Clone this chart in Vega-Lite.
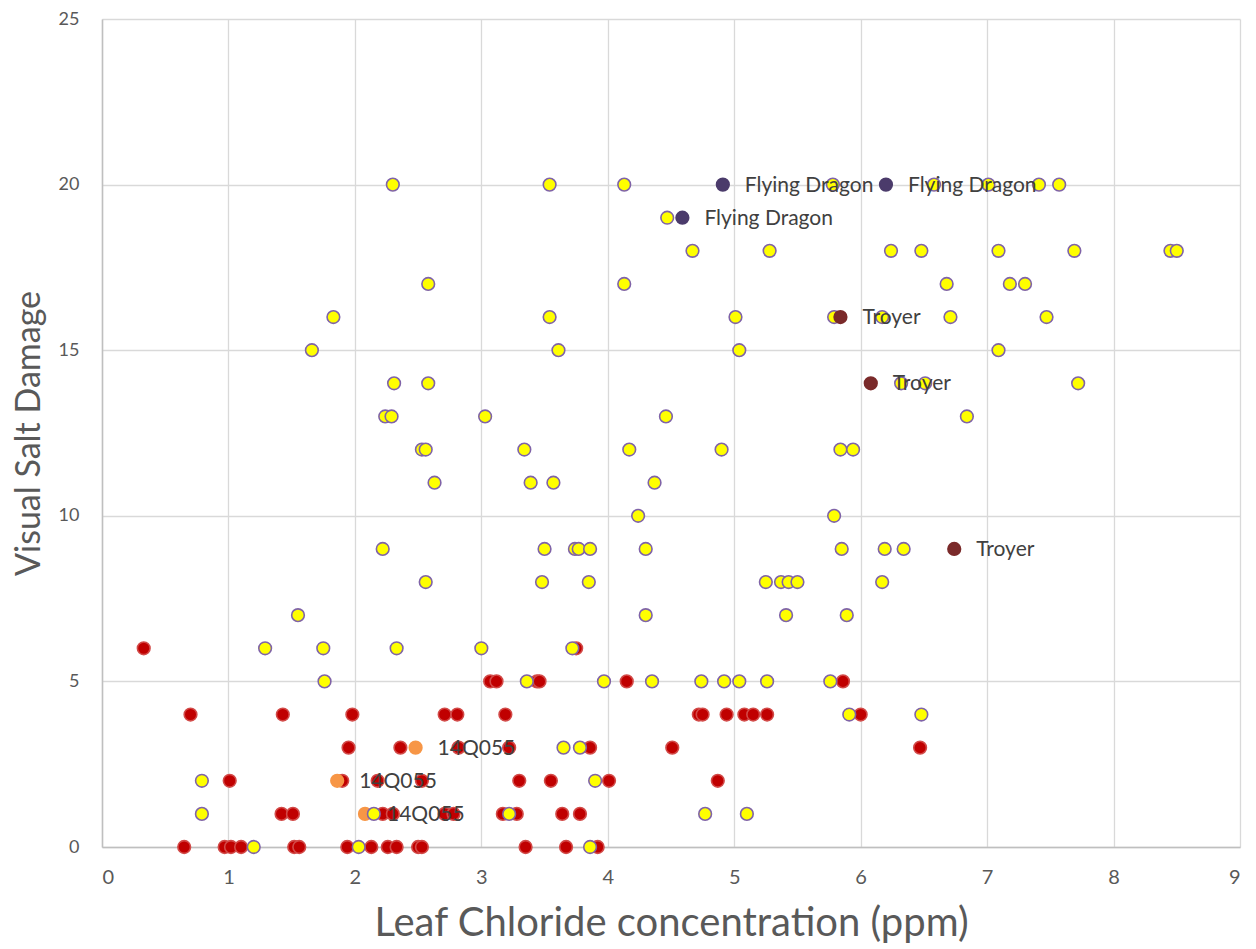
{
  "$schema": "https://vega.github.io/schema/vega-lite/v6.json",
  "width": 1138,
  "height": 828,
  "autosize": {"type": "none"},
  "padding": {"left": 102, "top": 19, "right": 16, "bottom": 102},
  "background": "white",
  "config": {
    "view": {"stroke": null},
    "font": "Lato",
    "axis": {
      "gridColor": "#D9D9D9",
      "gridWidth": 1.3,
      "domainColor": "#BFBFBF",
      "domainWidth": 1.5,
      "ticks": false,
      "labelColor": "#595959",
      "labelFont": "Lato",
      "labelFontSize": 18,
      "titleColor": "#595959",
      "titleFont": "Lato",
      "titleFontWeight": "normal",
      "titleFontSize": 34
    }
  },
  "data": {
    "values": [
      {"x": 0.33, "y": 6, "group": "B"}, {"x": 3.75, "y": 6, "group": "B"},
      {"x": 3.07, "y": 5, "group": "B"}, {"x": 3.12, "y": 5, "group": "B"}, {"x": 3.44, "y": 5, "group": "B"}, {"x": 3.46, "y": 5, "group": "B"}, {"x": 4.15, "y": 5, "group": "B"}, {"x": 5.86, "y": 5, "group": "B"},
      {"x": 0.70, "y": 4, "group": "B"}, {"x": 1.43, "y": 4, "group": "B"}, {"x": 1.98, "y": 4, "group": "B"}, {"x": 2.71, "y": 4, "group": "B"}, {"x": 2.81, "y": 4, "group": "B"}, {"x": 3.19, "y": 4, "group": "B"}, {"x": 4.72, "y": 4, "group": "B"}, {"x": 4.75, "y": 4, "group": "B"}, {"x": 4.94, "y": 4, "group": "B"}, {"x": 5.08, "y": 4, "group": "B"}, {"x": 5.15, "y": 4, "group": "B"}, {"x": 5.26, "y": 4, "group": "B"}, {"x": 6.00, "y": 4, "group": "B"},
      {"x": 1.95, "y": 3, "group": "B"}, {"x": 2.36, "y": 3, "group": "B"}, {"x": 2.82, "y": 3, "group": "B"}, {"x": 3.22, "y": 3, "group": "B"}, {"x": 3.86, "y": 3, "group": "B"}, {"x": 4.51, "y": 3, "group": "B"}, {"x": 6.47, "y": 3, "group": "B"},
      {"x": 1.01, "y": 2, "group": "B"}, {"x": 1.90, "y": 2, "group": "B"}, {"x": 2.18, "y": 2, "group": "B"}, {"x": 2.53, "y": 2, "group": "B"}, {"x": 3.30, "y": 2, "group": "B"}, {"x": 3.55, "y": 2, "group": "B"}, {"x": 4.01, "y": 2, "group": "B"}, {"x": 4.87, "y": 2, "group": "B"},
      {"x": 1.42, "y": 1, "group": "B"}, {"x": 1.51, "y": 1, "group": "B"}, {"x": 2.22, "y": 1, "group": "B"}, {"x": 2.30, "y": 1, "group": "B"}, {"x": 2.71, "y": 1, "group": "B"}, {"x": 2.78, "y": 1, "group": "B"}, {"x": 3.17, "y": 1, "group": "B"}, {"x": 3.28, "y": 1, "group": "B"}, {"x": 3.64, "y": 1, "group": "B"}, {"x": 3.78, "y": 1, "group": "B"},
      {"x": 0.65, "y": 0, "group": "B"}, {"x": 0.97, "y": 0, "group": "B"}, {"x": 1.02, "y": 0, "group": "B"}, {"x": 1.10, "y": 0, "group": "B"}, {"x": 1.52, "y": 0, "group": "B"}, {"x": 1.56, "y": 0, "group": "B"}, {"x": 1.94, "y": 0, "group": "B"}, {"x": 2.13, "y": 0, "group": "B"}, {"x": 2.26, "y": 0, "group": "B"}, {"x": 2.33, "y": 0, "group": "B"}, {"x": 2.50, "y": 0, "group": "B"}, {"x": 2.53, "y": 0, "group": "B"}, {"x": 3.35, "y": 0, "group": "B"}, {"x": 3.67, "y": 0, "group": "B"}, {"x": 3.92, "y": 0, "group": "B"},
      {"x": 2.48, "y": 3, "group": "14Q055", "label": "14Q055"}, {"x": 1.86, "y": 2, "group": "14Q055", "label": "14Q055"}, {"x": 2.08, "y": 1, "group": "14Q055", "label": "14Q055"},
      {"x": 2.30, "y": 20, "group": "A"}, {"x": 3.54, "y": 20, "group": "A"}, {"x": 4.13, "y": 20, "group": "A"}, {"x": 5.78, "y": 20, "group": "A"}, {"x": 6.58, "y": 20, "group": "A"}, {"x": 7.01, "y": 20, "group": "A"}, {"x": 7.41, "y": 20, "group": "A"}, {"x": 7.57, "y": 20, "group": "A"},
      {"x": 4.47, "y": 19, "group": "A"},
      {"x": 4.67, "y": 18, "group": "A"}, {"x": 5.28, "y": 18, "group": "A"}, {"x": 6.24, "y": 18, "group": "A"}, {"x": 6.48, "y": 18, "group": "A"}, {"x": 7.09, "y": 18, "group": "A"}, {"x": 7.69, "y": 18, "group": "A"}, {"x": 8.45, "y": 18, "group": "A"}, {"x": 8.50, "y": 18, "group": "A"},
      {"x": 2.58, "y": 17, "group": "A"}, {"x": 4.13, "y": 17, "group": "A"}, {"x": 6.68, "y": 17, "group": "A"}, {"x": 7.18, "y": 17, "group": "A"}, {"x": 7.30, "y": 17, "group": "A"},
      {"x": 1.83, "y": 16, "group": "A"}, {"x": 3.54, "y": 16, "group": "A"}, {"x": 5.01, "y": 16, "group": "A"}, {"x": 5.79, "y": 16, "group": "A"}, {"x": 6.17, "y": 16, "group": "A"}, {"x": 6.71, "y": 16, "group": "A"}, {"x": 7.47, "y": 16, "group": "A"},
      {"x": 1.66, "y": 15, "group": "A"}, {"x": 3.61, "y": 15, "group": "A"}, {"x": 5.04, "y": 15, "group": "A"}, {"x": 7.09, "y": 15, "group": "A"},
      {"x": 2.31, "y": 14, "group": "A"}, {"x": 2.58, "y": 14, "group": "A"}, {"x": 6.32, "y": 14, "group": "A"}, {"x": 6.51, "y": 14, "group": "A"}, {"x": 7.72, "y": 14, "group": "A"},
      {"x": 2.24, "y": 13, "group": "A"}, {"x": 2.29, "y": 13, "group": "A"}, {"x": 3.03, "y": 13, "group": "A"}, {"x": 4.46, "y": 13, "group": "A"}, {"x": 6.84, "y": 13, "group": "A"},
      {"x": 2.53, "y": 12, "group": "A"}, {"x": 2.56, "y": 12, "group": "A"}, {"x": 3.34, "y": 12, "group": "A"}, {"x": 4.17, "y": 12, "group": "A"}, {"x": 4.90, "y": 12, "group": "A"}, {"x": 5.84, "y": 12, "group": "A"}, {"x": 5.94, "y": 12, "group": "A"},
      {"x": 2.63, "y": 11, "group": "A"}, {"x": 3.39, "y": 11, "group": "A"}, {"x": 3.57, "y": 11, "group": "A"}, {"x": 4.37, "y": 11, "group": "A"},
      {"x": 4.24, "y": 10, "group": "A"}, {"x": 5.79, "y": 10, "group": "A"},
      {"x": 2.22, "y": 9, "group": "A"}, {"x": 3.50, "y": 9, "group": "A"}, {"x": 3.74, "y": 9, "group": "A"}, {"x": 3.77, "y": 9, "group": "A"}, {"x": 3.86, "y": 9, "group": "A"}, {"x": 4.30, "y": 9, "group": "A"}, {"x": 5.85, "y": 9, "group": "A"}, {"x": 6.19, "y": 9, "group": "A"}, {"x": 6.34, "y": 9, "group": "A"},
      {"x": 2.56, "y": 8, "group": "A"}, {"x": 3.48, "y": 8, "group": "A"}, {"x": 3.85, "y": 8, "group": "A"}, {"x": 5.25, "y": 8, "group": "A"}, {"x": 5.37, "y": 8, "group": "A"}, {"x": 5.43, "y": 8, "group": "A"}, {"x": 5.50, "y": 8, "group": "A"}, {"x": 6.17, "y": 8, "group": "A"},
      {"x": 1.55, "y": 7, "group": "A"}, {"x": 4.30, "y": 7, "group": "A"}, {"x": 5.41, "y": 7, "group": "A"}, {"x": 5.89, "y": 7, "group": "A"},
      {"x": 1.29, "y": 6, "group": "A"}, {"x": 1.75, "y": 6, "group": "A"}, {"x": 2.33, "y": 6, "group": "A"}, {"x": 3.00, "y": 6, "group": "A"}, {"x": 3.72, "y": 6, "group": "A"},
      {"x": 1.76, "y": 5, "group": "A"}, {"x": 3.36, "y": 5, "group": "A"}, {"x": 3.97, "y": 5, "group": "A"}, {"x": 4.35, "y": 5, "group": "A"}, {"x": 4.74, "y": 5, "group": "A"}, {"x": 4.92, "y": 5, "group": "A"}, {"x": 5.04, "y": 5, "group": "A"}, {"x": 5.26, "y": 5, "group": "A"}, {"x": 5.76, "y": 5, "group": "A"},
      {"x": 5.91, "y": 4, "group": "A"}, {"x": 6.48, "y": 4, "group": "A"},
      {"x": 3.65, "y": 3, "group": "A"}, {"x": 3.78, "y": 3, "group": "A"},
      {"x": 0.79, "y": 2, "group": "A"}, {"x": 3.90, "y": 2, "group": "A"},
      {"x": 0.79, "y": 1, "group": "A"}, {"x": 2.15, "y": 1, "group": "A"}, {"x": 3.22, "y": 1, "group": "A"}, {"x": 4.77, "y": 1, "group": "A"}, {"x": 5.10, "y": 1, "group": "A"},
      {"x": 1.20, "y": 0, "group": "A"}, {"x": 2.03, "y": 0, "group": "A"}, {"x": 3.86, "y": 0, "group": "A"},
      {"x": 4.91, "y": 20, "group": "Flying Dragon", "label": "Flying Dragon"}, {"x": 6.20, "y": 20, "group": "Flying Dragon", "label": "Flying Dragon"}, {"x": 4.59, "y": 19, "group": "Flying Dragon", "label": "Flying Dragon"},
      {"x": 5.84, "y": 16, "group": "Troyer", "label": "Troyer"}, {"x": 6.08, "y": 14, "group": "Troyer", "label": "Troyer"}, {"x": 6.74, "y": 9, "group": "Troyer", "label": "Troyer"}
    ]
  },
  "layer": [
    {
      "mark": {"type": "point", "filled": true, "shape": "circle", "size": 160, "strokeWidth": 1.6, "opacity": 1},
      "encoding": {
        "x": {"field": "x", "type": "quantitative", "scale": {"domain": [0, 9], "nice": false}, "axis": {"values": [0,1,2,3,4,5,6,7,8,9], "format": "d", "labelFontSize": 20, "title": "Leaf Chloride concentration (ppm)", "titleFontSize": 40, "labelPadding": 20, "titlePadding": 16}},
        "y": {"field": "y", "type": "quantitative", "scale": {"domain": [0, 25], "nice": false}, "axis": {"values": [0,5,10,15,20,25], "format": "d", "title": "Visual Salt Damage", "labelPadding": 23, "titlePadding": 12}},
        "fill": {"field": "group", "type": "nominal", "legend": null, "scale": {"domain": ["A", "B", "14Q055", "Flying Dragon", "Troyer"], "range": ["#FFFF00", "#C00000", "#F79646", "#4B3B6B", "#7A2A2A"]}},
        "stroke": {"field": "group", "type": "nominal", "legend": null, "scale": {"domain": ["A", "B", "14Q055", "Flying Dragon", "Troyer"], "range": ["#7F63A8", "#D24A48", "#F79646", "#4B3B6B", "#7A2A2A"]}}
      }
    },
    {
      "transform": [{"filter": "datum.label != null"}],
      "mark": {"type": "text", "align": "left", "baseline": "middle", "dx": 22, "dy": 1, "fontSize": 21, "font": "Lato", "color": "#404040"},
      "encoding": {
        "x": {"field": "x", "type": "quantitative"},
        "y": {"field": "y", "type": "quantitative"},
        "text": {"field": "label"}
      }
    }
  ]
}
